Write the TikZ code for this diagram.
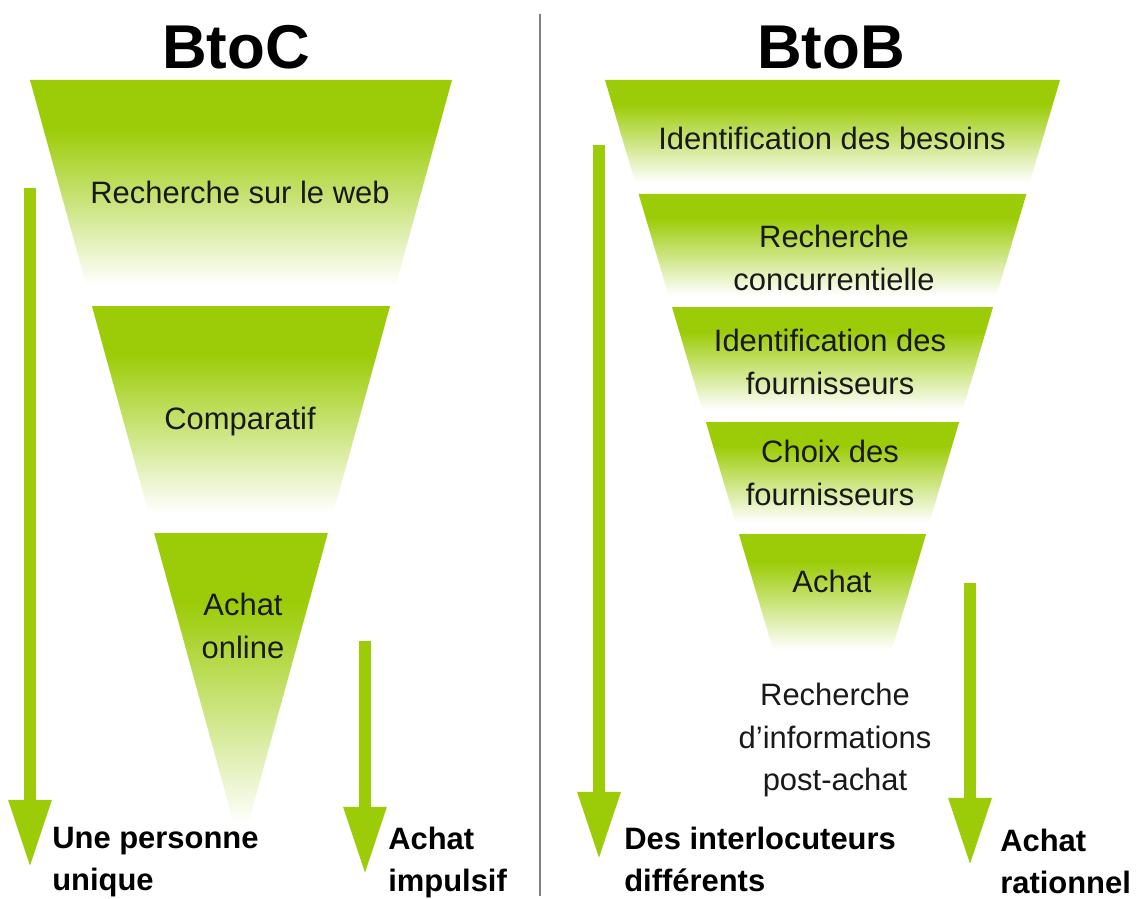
\documentclass[tikz,border=0pt]{standalone}
\usepackage{fontspec}
\setmainfont{Liberation Sans}
\usetikzlibrary{arrows.meta}

\definecolor{leafgreen}{RGB}{156,204,8}
\pgfdeclareverticalshading{funnelfade}{100bp}{color(0bp)=(white); color(29bp)=(white); color(64bp)=(leafgreen); color(100bp)=(leafgreen)}

\tikzset{
  stage/.style={text=black!90, align=center, inner sep=0pt, font=\fontsize{22}{30}\selectfont},
  result/.style={anchor=north west, align=left, inner sep=0pt, font=\bfseries\fontsize{22}{30}\selectfont},
  title/.style={inner sep=0pt, font=\bfseries\fontsize{44}{50}\selectfont},
  flow/.style={draw=leafgreen, line width=0.3cm, -{Triangle[width=1cm,length=1.7cm]}},
  divider/.style={draw=black!50, line width=1.2pt}
}

\begin{document}
\begin{tikzpicture}[x=0.025cm, y=-0.025cm]
  \useasboundingbox (0,0) rectangle (1136,899);

  % BtoC funnel
  \foreach \yt/\yb in {80/303, 306/530, 533/850} {
    \pgfmathsetmacro\wt{211-0.274*(\yt-80)}
    \pgfmathsetmacro\wb{max(211-0.274*(\yb-80),0)}
    \shade[shading=funnelfade] (241-\wt,\yt) -- (241+\wt,\yt) -- (241+\wb,\yb) -- (241-\wb,\yb) -- cycle;
  }

  % BtoB funnel
  \foreach \yt/\yb in {80/191, 194/304, 307/419, 422/531, 534/660} {
    \pgfmathsetmacro\wt{227.5-0.295*(\yt-80)}
    \pgfmathsetmacro\wb{227.5-0.295*(\yb-80)}
    \shade[shading=funnelfade] (832.5-\wt,\yt) -- (832.5+\wt,\yt) -- (832.5+\wb,\yb) -- (832.5-\wb,\yb) -- cycle;
  }

  \node[title] (btoc) at (236,47) {BtoC};
  \node[title] (btob) at (831,48) {BtoB};
  \draw[divider] (540,14) -- (540,896);

  \node[stage] (web) at (240,192) {Recherche sur le web};
  \node[stage] (comp) at (240,421) {Comparatif};
  \node[stage] (online) at (243,626) {Achat\\online};

  \node[stage] (besoins) at (832,138) {Identification des besoins};
  \node[stage] (concur) at (834,258) {Recherche\\concurrentielle};
  \node[stage] (ident) at (830,362) {Identification des\\fournisseurs};
  \node[stage] (choix) at (830,473) {Choix des\\fournisseurs};
  \node[stage] (achat) at (832,581) {Achat};
  \node[stage] (post) at (835,740) {Recherche\\d'informations\\post-achat};

  % arrows
  \coordinate (c1) at (30,188);
  \coordinate (c1end) at (30,868);
  \coordinate (c2) at (365,641);
  \coordinate (c2end) at (365,875);
  \coordinate (b1) at (599,145);
  \coordinate (b1end) at (599,860);
  \coordinate (b2) at (970,583);
  \coordinate (b2end) at (970,866);
  \draw[flow] (c1) -- (c1end);
  \draw[flow] (c2) -- (c2end);
  \draw[flow] (b1) -- (b1end);
  \draw[flow] (b2) -- (b2end);

  \node[result] (unique) at (52,827) {Une personne\\unique};
  \node[result] (impulsif) at (388,827) {Achat\\impulsif};
  \node[result] (interloc) at (624,827) {Des interlocuteurs\\différents};
  \node[result] (rationnel) at (1000,829) {Achat\\rationnel};
\end{tikzpicture}
\end{document}
